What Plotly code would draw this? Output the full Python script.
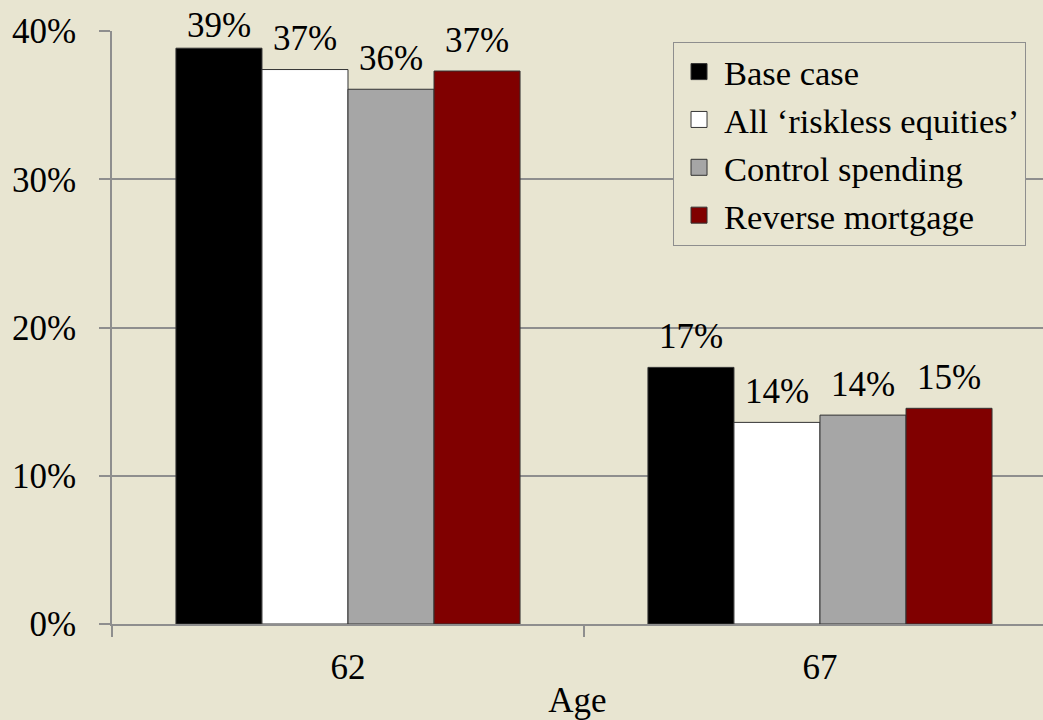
import plotly.graph_objects as go

ages = ["62", "67"]
series_names = ["Base case", "All \u2018riskless equities\u2019", "Control spending", "Reverse mortgage"]
base_case = [0.3884, 0.1731]
riskless = [0.3740, 0.1360]
control = [0.3607, 0.1409]
reverse = [0.3730, 0.1455]
colors = ["#000000", "#FFFFFF", "#A6A6A6", "#800000"]
y_ticks = [0, 0.1, 0.2, 0.3, 0.4]

FONT = "Liberation Serif"
BG = "#E8E5D1"
GRID = "#8E8E8E"
BARGAP = 0.271
Y_MAX = 0.4
MARGIN_T, MARGIN_B, H = 31, 96, 720
PX_PER_UNIT = (H - MARGIN_T - MARGIN_B) / Y_MAX

all_series = [base_case, riskless, control, reverse]

fig = go.Figure()
for name, vals, col in zip(series_names, all_series, colors):
    fig.add_trace(go.Bar(
        x=ages, y=vals, name=name, showlegend=False,
        marker=dict(color=col, line=dict(color="#333333", width=1)),
    ))
# legend entries
for name, col in zip(series_names, colors):
    fig.add_trace(go.Scatter(
        x=[None], y=[None], mode="markers", name=name, showlegend=True,
        marker=dict(symbol="square", size=16, color=col, line=dict(color="#333333", width=1)),
    ))

# value labels above bars (kept inside the figure at the top, like the original)
n = len(all_series)
for i, vals in enumerate(all_series):
    off = (i - (n - 1) / 2) * (1 - BARGAP) / n
    for j, v in enumerate(vals):
        shift = min(31, 6 + (Y_MAX - v) * PX_PER_UNIT)
        fig.add_annotation(
            x=j + off, y=v, xref="x", yref="y",
            text=f"{round(v * 100):.0f}%", showarrow=False,
            yanchor="middle", yshift=shift,
            font=dict(family=FONT, size=35, color="#000000"),
        )

fig.update_layout(
    width=1043, height=H,
    margin=dict(l=112, r=0, t=MARGIN_T, b=MARGIN_B),
    paper_bgcolor=BG, plot_bgcolor=BG,
    barmode="group", bargap=BARGAP, bargroupgap=0,
    font=dict(family=FONT, size=35, color="#000000"),
    legend=dict(
        x=0.6026, y=0.982, xanchor="left", yanchor="top",
        bgcolor=BG, bordercolor="#8E8E8E", borderwidth=1,
        font=dict(family=FONT, size=34.5, color="#000000"),
        itemwidth=40, tracegroupgap=0,
    ),
    xaxis=dict(
        type="category", range=[-0.5, 1.4725],
        showline=True, linecolor=GRID, linewidth=1.5,
        ticks="outside", tickson="boundaries", ticklen=11, tickcolor=GRID, tickwidth=1.5,
        ticklabelstandoff=11,
        showgrid=False,
        title=dict(text="Age", font=dict(family=FONT, size=35), standoff=2),
        tickfont=dict(family=FONT, size=35),
    ),
    yaxis=dict(
        range=[0, Y_MAX], tickvals=y_ticks, tickformat=".0%",
        showline=True, linecolor=GRID, linewidth=1.5,
        ticks="outside", ticklen=11, tickcolor=GRID, tickwidth=1.5,
        ticklabelstandoff=16,
        showgrid=True, gridcolor=GRID, gridwidth=1.5,
        zeroline=False,
        tickfont=dict(family=FONT, size=35),
    ),
)

fig.write_html("out.html")
